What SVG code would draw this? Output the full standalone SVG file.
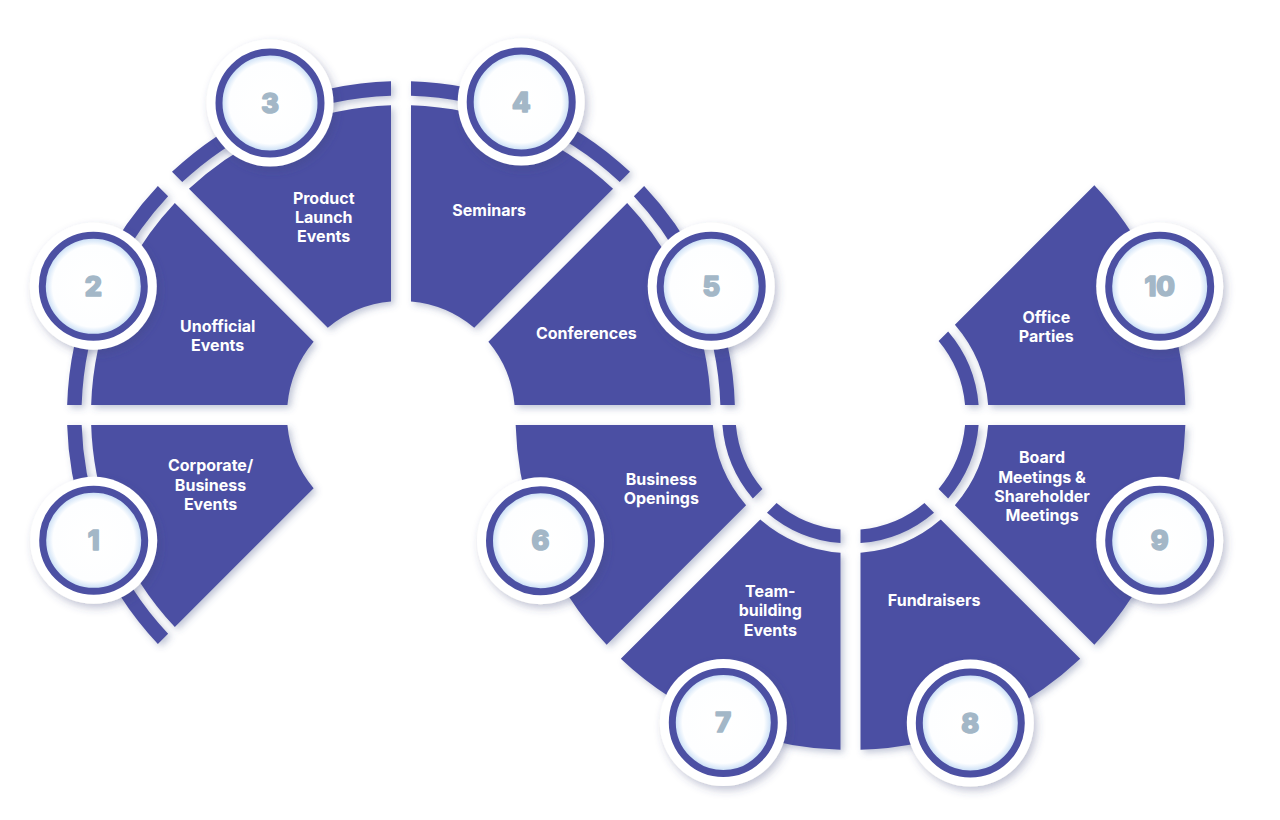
<svg xmlns="http://www.w3.org/2000/svg" width="1280" height="820" viewBox="0 0 1280 820">
<defs>
<style>
.sec{fill:#4c50a3}
.lbl{font-family:Inter,"Liberation Sans",sans-serif;font-weight:700;font-size:16px;fill:#fff;text-anchor:middle}
.num{font-family:Inter,"Liberation Sans",sans-serif;font-weight:800;font-size:27px;fill:#a3b7c7;stroke:#a3b7c7;stroke-width:1.6;stroke-linejoin:round;text-anchor:middle}
</style>
<filter id="sh" x="-20%" y="-20%" width="140%" height="140%">
<feDropShadow dx="3" dy="3" stdDeviation="3.5" flood-color="#4a5a8a" flood-opacity="0.35"/>
</filter>
<filter id="bsh" x="-30%" y="-30%" width="160%" height="160%">
<feDropShadow dx="3" dy="4" stdDeviation="4" flood-color="#3c4a7a" flood-opacity="0.32"/>
</filter>
<radialGradient id="glow">
<stop offset="0" stop-color="#ffffff"/>
<stop offset="0.8" stop-color="#fdfeff"/>
<stop offset="0.93" stop-color="#cfe2f7"/>
<stop offset="1" stop-color="#cfe2f7"/>
</radialGradient>
<path id="secA" d="M113.56,-10 L309.84,-10 A310,310 0 0 0 226.16,-212.02 L87.37,-73.23 A114,114 0 0 1 113.56,-10 Z M319.34,-10 L333.85,-10 A334,334 0 0 0 243.14,-229 L232.88,-218.74 A319.5,319.5 0 0 1 319.34,-10 Z"/>
<path id="secB" d="M114.56,-10 L128.11,-10 A128.5,128.5 0 0 0 97.66,-83.52 L88.08,-73.94 A115,115 0 0 1 114.56,-10 Z M137.64,-10 L334.85,-10 A335,335 0 0 0 243.85,-229.71 L104.4,-90.26 A138,138 0 0 1 137.64,-10 Z"/>
<g id="badge">
<circle r="63.5" fill="#ffffff" filter="url(#bsh)"/>
<circle r="51" fill="url(#glow)" stroke="#4c50a3" stroke-width="7"/>
</g>
</defs>
<rect width="1280" height="820" fill="#ffffff"/>
<g id="connectors"></g>

<g id="node-1">
<g filter="url(#sh)"><use href="#secA" class="sec" transform="translate(401,415) rotate(-180)"/></g>
<text class="lbl"><tspan x="210.5" y="471">Corporate/</tspan><tspan x="210.5" y="490.5">Business</tspan><tspan x="210.5" y="510">Events</tspan></text>
</g>
<g id="node-2">
<g filter="url(#sh)"><use href="#secA" class="sec" transform="translate(401,415) rotate(-135)"/></g>
<text class="lbl"><tspan x="217.7" y="332.3">Unofficial</tspan><tspan x="217.7" y="351">Events</tspan></text>
</g>
<g id="node-3">
<g filter="url(#sh)"><use href="#secA" class="sec" transform="translate(401,415) rotate(-90)"/></g>
<text class="lbl"><tspan x="323.7" y="204">Product</tspan><tspan x="323.7" y="222.7">Launch</tspan><tspan x="323.7" y="241.5">Events</tspan></text>
</g>
<g id="node-4">
<g filter="url(#sh)"><use href="#secA" class="sec" transform="translate(401,415) rotate(-45)"/></g>
<text class="lbl" x="489.2" y="215.7">Seminars</text>
</g>
<g id="node-5">
<g filter="url(#sh)"><use href="#secA" class="sec" transform="translate(401,415)"/></g>
<text class="lbl" x="586.3" y="339.3">Conferences</text>
</g>
<g id="node-6">
<g filter="url(#sh)"><use href="#secB" class="sec" transform="translate(850.5,415) rotate(180)"/></g>
<text class="lbl"><tspan x="661.3" y="485">Business</tspan><tspan x="661.3" y="504">Openings</tspan></text>
</g>
<g id="node-7">
<g filter="url(#sh)"><use href="#secB" class="sec" transform="translate(850.5,415) rotate(135)"/></g>
<text class="lbl"><tspan x="770.3" y="596.7">Team-</tspan><tspan x="770.3" y="616.2">building</tspan><tspan x="770.3" y="635.7">Events</tspan></text>
</g>
<g id="node-8">
<g filter="url(#sh)"><use href="#secB" class="sec" transform="translate(850.5,415) rotate(90)"/></g>
<text class="lbl" x="934.2" y="606">Fundraisers</text>
</g>
<g id="node-9">
<g filter="url(#sh)"><use href="#secB" class="sec" transform="translate(850.5,415) rotate(45)"/></g>
<text class="lbl"><tspan x="1042" y="463.3">Board</tspan><tspan x="1042" y="482.5">Meetings &amp;</tspan><tspan x="1042" y="501.7">Shareholder</tspan><tspan x="1042" y="520.7">Meetings</tspan></text>
</g>
<g id="node-10">
<g filter="url(#sh)"><use href="#secB" class="sec" transform="translate(850.5,415)"/></g>
<text class="lbl"><tspan x="1046.3" y="322.7">Office</tspan><tspan x="1046.3" y="341.7">Parties</tspan></text>
</g>

<g id="badge-1"><use href="#badge" transform="translate(93.7,540.3)"/><text class="num" x="93.7" y="550">1</text></g>
<g id="badge-2"><use href="#badge" transform="translate(93.3,286.3)"/><text class="num" x="93.3" y="296">2</text></g>
<g id="badge-3"><use href="#badge" transform="translate(270,103)"/><text class="num" x="270" y="112.7">3</text></g>
<g id="badge-4"><use href="#badge" transform="translate(521.2,102)"/><text class="num" x="521.2" y="111.7">4</text></g>
<g id="badge-5"><use href="#badge" transform="translate(711.2,286.3)"/><text class="num" x="711.2" y="296">5</text></g>
<g id="badge-6"><use href="#badge" transform="translate(540.5,540.7)"/><text class="num" x="540.5" y="550.4">6</text></g>
<g id="badge-7"><use href="#badge" transform="translate(723.3,722.5)"/><text class="num" x="723.3" y="732.2">7</text></g>
<g id="badge-8"><use href="#badge" transform="translate(970.3,723)"/><text class="num" x="970.3" y="732.7">8</text></g>
<g id="badge-9"><use href="#badge" transform="translate(1159.7,540.2)"/><text class="num" x="1159.7" y="549.9">9</text></g>
<g id="badge-10"><use href="#badge" transform="translate(1159.7,286.3)"/><text class="num" x="1159.7" y="296">10</text></g>
</svg>
